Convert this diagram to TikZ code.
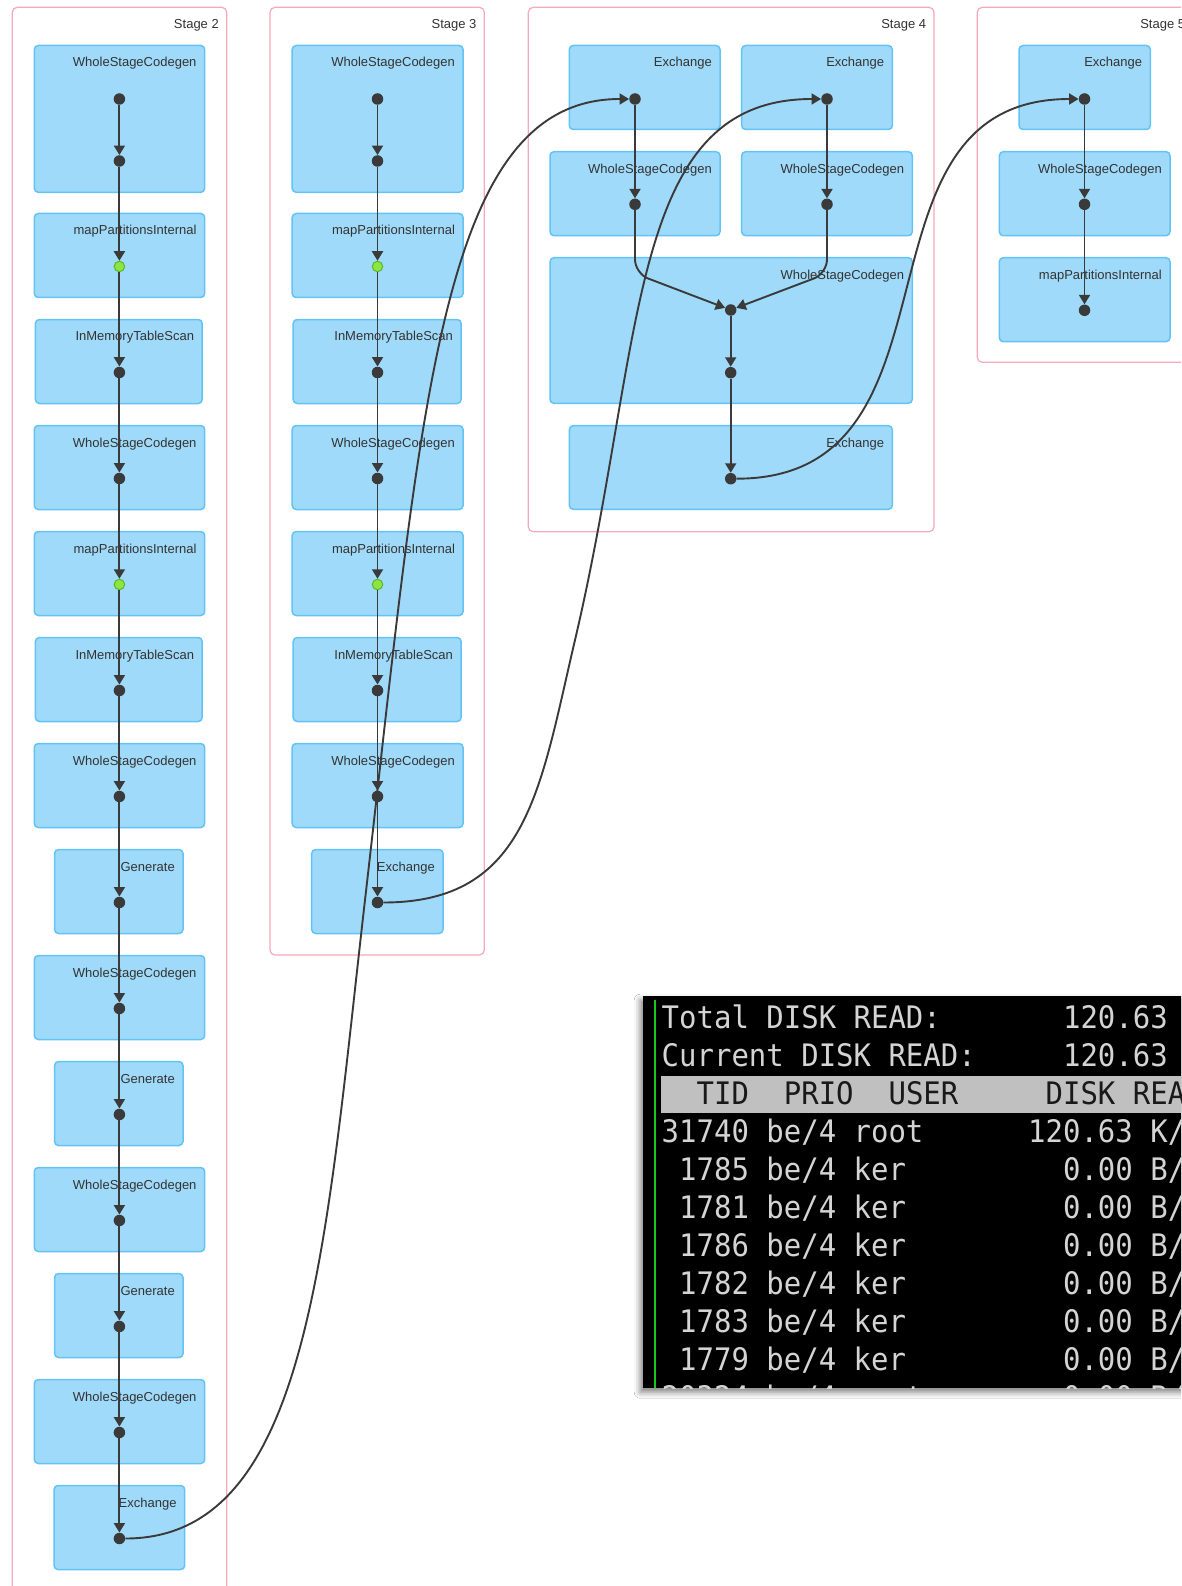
\documentclass[tikz,border=0pt]{standalone}
\usepackage{fontspec}
\setmainfont{Liberation Sans}
\newfontfamily\termfont[FakeStretch=0.935]{DejaVu Sans Mono}
\usetikzlibrary{arrows.meta,calc,shadows.blur}

\definecolor{boxfill}{HTML}{A0DAFA}
\definecolor{boxline}{HTML}{62C3F5}
\definecolor{stageline}{HTML}{F6A9B8}
\definecolor{ink}{HTML}{3A3A3A}
\definecolor{labelink}{HTML}{333333}
\definecolor{leaf}{HTML}{8EE53F}
\definecolor{leafline}{HTML}{58B82C}
\definecolor{termtext}{HTML}{D4D4D4}
\definecolor{termbar}{HTML}{C0C0C0}
\definecolor{termgreen}{HTML}{19C819}

\tikzset{
  stage/.style={draw=stageline, line width=1.2pt, rounded corners=5pt,
    inner sep=0pt, outer sep=0pt, anchor=north west},
  stagelabel/.style={font=\fontsize{13}{15}\selectfont, text=labelink,
    anchor=base east, inner sep=0pt},
  opbox/.style={draw=boxline, fill=boxfill, line width=1.5pt, rounded corners=4pt,
    inner sep=0pt, outer sep=0pt, anchor=north west},
  oplabel/.style={font=\fontsize{13}{15}\selectfont, text=labelink,
    anchor=base east, inner sep=0pt},
  pt/.style={circle, fill=ink, minimum size=11.5pt, inner sep=0pt},
  hot/.style={circle, fill=leaf, draw=leafline, line width=1pt, minimum size=10.5pt, inner sep=0pt},
  flow/.style={draw=ink, line width=1.9pt, -{Triangle[width=11pt,length=9.5pt]}},
  termtxt/.style={font=\termfont\fontsize{31}{31}\selectfont, text=termtext,
    anchor=base west, inner sep=0pt},
  termhd/.style={termtxt, text=black!90},
}

% operator box with its caption in the upper right corner
\newcommand\opnode[6]{%
  \node[opbox, minimum width=#4pt, minimum height=#5pt] (#1) at (#2,#3) {};
  \node[oplabel] (#1-t) at ($(#1.north east)+(-8,21.5)$) {#6};}
% x position of a terminal column
\newcommand\termcol[1]{661.5+#1*17.45}

\begin{document}
\begin{tikzpicture}[x=1pt,y=-1pt]
\useasboundingbox (0,0) rectangle (1181,1586);
\fill[white] (0,0) rectangle (1181,1586);
\clip (0,0) rectangle (1181,1586);

% ---------- stage frames ----------
\node[stage, minimum width=214.4pt, minimum height=1592.7pt] (stage2) at (12.3,7.3) {};
\node[stagelabel] (stage2-t) at ($(stage2.north east)+(-7.7,21.7)$) {Stage 2};
\node[stage, minimum width=214.3pt, minimum height=947.7pt] (stage3) at (270,7.3) {};
\node[stagelabel] (stage3-t) at ($(stage3.north east)+(-7.7,21.7)$) {Stage 3};
\node[stage, minimum width=405.7pt, minimum height=524.4pt] (stage4) at (528.3,7.3) {};
\node[stagelabel] (stage4-t) at ($(stage4.north east)+(-7.7,21.7)$) {Stage 4};
\node[stage, minimum width=215.7pt, minimum height=355pt] (stage5) at (977.3,7.3) {};
\node[stagelabel] (stage5-t) at ($(stage5.north east)+(-7.7,21.7)$) {Stage 5};

% ---------- stage 2 ----------
\opnode{s2b0}{34.3}{45.5}{170.4}{146.8}{WholeStageCodegen}
\foreach \i/\x/\w/\lab in {
  1/34.3/170.4/mapPartitionsInternal,
  2/35.4/166.8/InMemoryTableScan,
  3/34.3/170.4/WholeStageCodegen,
  4/34.3/170.4/mapPartitionsInternal,
  5/35.4/166.8/InMemoryTableScan,
  6/34.3/170.4/WholeStageCodegen,
  7/54.6/128.4/Generate,
  8/34.3/170.4/WholeStageCodegen,
  9/54.6/128.4/Generate,
  10/34.3/170.4/WholeStageCodegen,
  11/54.6/128.4/Generate,
  12/34.3/170.4/WholeStageCodegen,
  13/54.0/130.7/Exchange}{
  \pgfmathsetmacro\rowtop{213.5+106*(\i-1)}
  \opnode{s2b\i}{\x}{\rowtop}{\w}{84}{\lab}
}

% ---------- stage 3 ----------
\opnode{s3b0}{292.2}{45.5}{170.9}{146.8}{WholeStageCodegen}
\foreach \i/\x/\w/\lab in {
  1/292.2/170.9/mapPartitionsInternal,
  2/293.2/167.9/InMemoryTableScan,
  3/292.2/170.9/WholeStageCodegen,
  4/292.2/170.9/mapPartitionsInternal,
  5/293.2/167.9/InMemoryTableScan,
  6/292.2/170.9/WholeStageCodegen,
  7/311.7/131.3/Exchange}{
  \pgfmathsetmacro\rowtop{213.5+106*(\i-1)}
  \opnode{s3b\i}{\x}{\rowtop}{\w}{84}{\lab}
}

% ---------- stage 4 ----------
\opnode{s4ba}{569.3}{45.5}{150.7}{84}{Exchange}
\opnode{s4bb}{741.7}{45.5}{150.6}{84}{Exchange}
\opnode{s4bc}{550}{151.7}{170}{84}{WholeStageCodegen}
\opnode{s4bd}{741.7}{151.7}{170.6}{84}{WholeStageCodegen}
\opnode{s4be}{550}{257.7}{362.3}{145.6}{WholeStageCodegen}
\opnode{s4bf}{569.3}{425.7}{323}{83.6}{Exchange}

% ---------- stage 5 ----------
\opnode{s5bg}{1019}{45.5}{131.3}{84}{Exchange}
\opnode{s5bh}{999.3}{151.7}{170.7}{84}{WholeStageCodegen}
\opnode{s5bi}{999.3}{257.7}{170.7}{84}{mapPartitionsInternal}

% ---------- operator points ----------
\node[pt] (s2d0a) at (119.4,99) {};
\node[pt] (s2d0) at (119.4,161) {};
\foreach \i/\kind in {1/hot,2/pt,3/pt,4/hot,5/pt,6/pt,7/pt,8/pt,9/pt,10/pt,11/pt,12/pt,13/pt}{
  \node[\kind] (s2d\i) at (119.4,{213.5+106*(\i-1)+53}) {};
}
\node[pt] (s3d0a) at (377.5,99) {};
\node[pt] (s3d0) at (377.5,161) {};
\foreach \i/\kind in {1/hot,2/pt,3/pt,4/hot,5/pt,6/pt,7/pt}{
  \node[\kind] (s3d\i) at (377.5,{213.5+106*(\i-1)+53}) {};
}
\node[pt] (s4a) at (635,99) {};
\node[pt] (s4b) at (827,99) {};
\node[pt] (s4c) at (635,204.3) {};
\node[pt] (s4d) at (827,204.3) {};
\node[pt] (s4e) at (730.7,310) {};
\node[pt] (s4e2) at (730.7,372.7) {};
\node[pt] (s4f) at (730.7,478.7) {};
\node[pt] (s5g) at (1084.5,99) {};
\node[pt] (s5h) at (1084.5,204.3) {};
\node[pt] (s5i) at (1084.5,310.3) {};

% ---------- edges inside the stages ----------
\draw[flow] (s2d0a) -- (s2d0);
\draw[flow] (s2d0) -- (s2d1);
\foreach \i in {2,...,13}{\pgfmathtruncatemacro\j{\i-1}\draw[flow] (s2d\j) -- (s2d\i);}
\draw[flow] (s3d0a) -- (s3d0);
\draw[flow] (s3d0) -- (s3d1);
\foreach \i in {2,...,7}{\pgfmathtruncatemacro\j{\i-1}\draw[flow] (s3d\j) -- (s3d\i);}
\draw[flow] (s4a) -- (s4c);
\draw[flow] (s4b) -- (s4d);
\draw[flow, rounded corners=14pt] (s4c) -- ($(s4c)+(0,69.2)$) -- (s4e);
\draw[flow, rounded corners=14pt] (s4d) -- ($(s4d)+(0,69.2)$) -- (s4e);
\draw[flow] (s4e) -- (s4e2);
\draw[flow] (s4e2) -- (s4f);
\draw[flow] (s5g) -- (s5h);
\draw[flow] (s5h) -- (s5i);

% ---------- shuffle edges between the stages ----------
\coordinate (via1) at (365,900);
\coordinate (via2) at (575,640);
\draw[flow] (s2d13) .. controls +(190,0) and +(-40.2,350) .. (via1)
  .. controls +(57.5,-500) and +(-195,0) .. (s4a);
\draw[flow] (s3d7) .. controls +(150,0) and +(-35.25,150) .. (via2)
  .. controls +(70.5,-300) and +(-200,0) .. (s4b);
\draw[flow] (s4f) .. controls +(245,0) and +(-245,0) .. (s5g);

% ---------- terminal window ----------
\node[fill=black, minimum width=560pt, minimum height=392pt, inner sep=0pt,
  anchor=north west, blur shadow={shadow xshift=-3pt, shadow yshift=-4pt,
  shadow blur radius=6pt, shadow opacity=50}] (term) at (643,996) {};
\begin{scope}
  \clip (term.north west) rectangle (term.south east);
  \draw[termgreen, line width=2.5pt] ($(term.north west)+(12,4)$) -- ($(term.south west)+(12,0)$);
  \node[fill=termbar, minimum width=540pt, minimum height=37pt, inner sep=0pt,
    anchor=north west] (termhead) at (661,1075.5) {};
  \node[termtxt] (t0a) at (\termcol{0},1028.8) {Total DISK READ:};
  \node[termtxt] (t0b) at (\termcol{23},1028.8) {120.63};
  \node[termtxt] (t1a) at (\termcol{0},1066.8) {Current DISK READ:};
  \node[termtxt] (t1b) at (\termcol{23},1066.8) {120.63};
  \node[termhd] (t2a) at (\termcol{2},1104.8) {TID};
  \node[termhd] (t2b) at (\termcol{7},1104.8) {PRIO};
  \node[termhd] (t2c) at (\termcol{13},1104.8) {USER};
  \node[termhd] (t2d) at (\termcol{22},1104.8) {DISK READ};
  \node[termtxt] (t3a) at (\termcol{0},1142.8) {31740 be/4 root};
  \node[termtxt] (t3b) at (\termcol{21},1142.8) {120.63 K/};
  \foreach \r/\tid in {4/1785,5/1781,6/1786,7/1782,8/1783,9/1779}{
    \node[termtxt] (t\r a) at (\termcol{1},{1028.8+38*\r}) {\tid\ be/4 ker};
    \node[termtxt] (t\r b) at (\termcol{23},{1028.8+38*\r}) {0.00 B/};
  }
  \node[termtxt] (t10a) at (\termcol{0},1408.8) {20324 be/4 root};
  \node[termtxt] (t10b) at (\termcol{23},1408.8) {0.00 B/};
\end{scope}
\end{tikzpicture}
\end{document}
